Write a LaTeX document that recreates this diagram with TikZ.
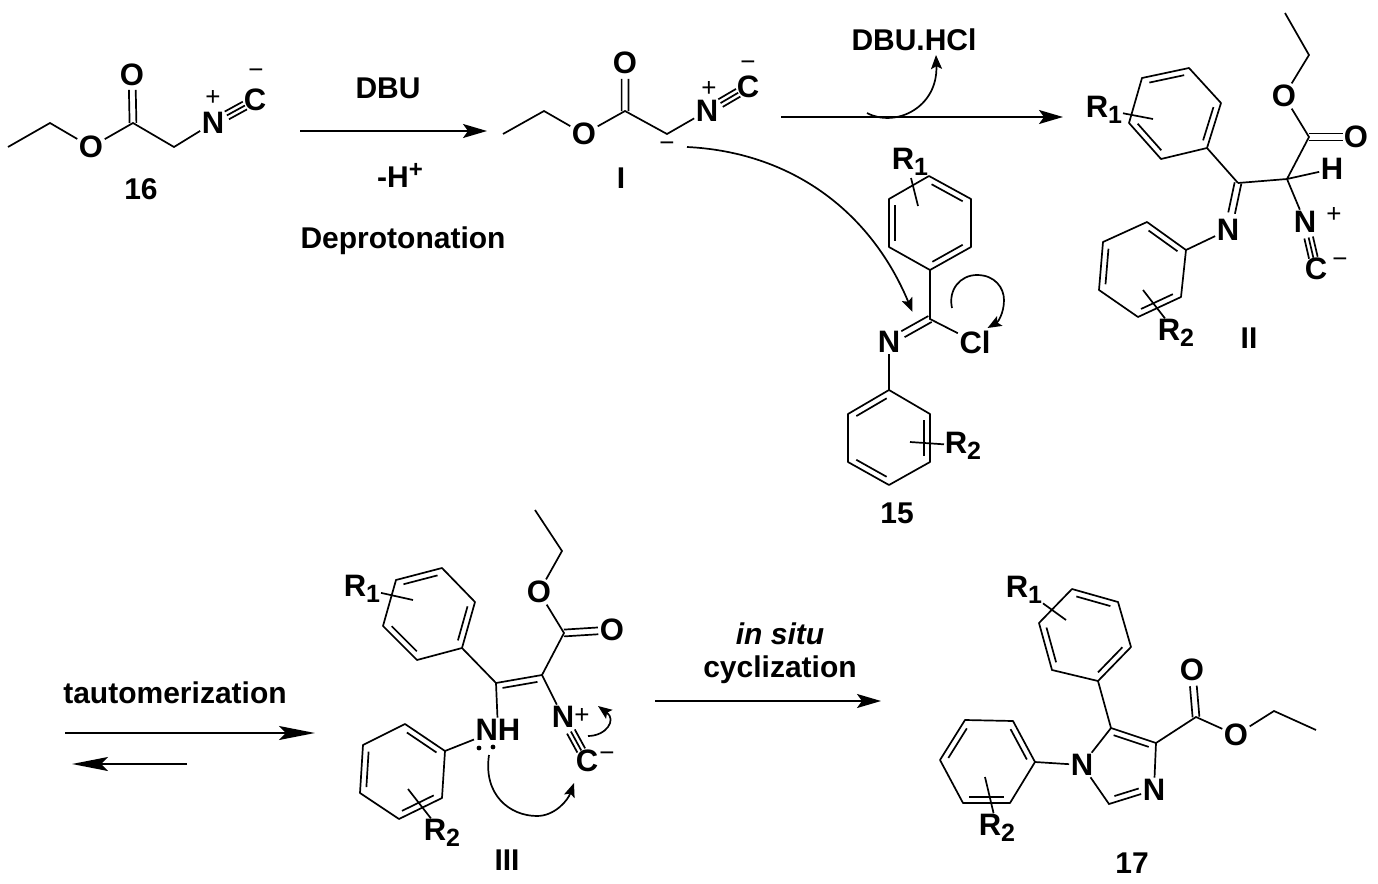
\documentclass[tikz,border=0pt]{standalone}
\usepackage{fontspec}
\setmainfont{Liberation Sans}
\usetikzlibrary{calc,arrows.meta}
\newcommand{\subb}[1]{\raisebox{-2.8pt}{\fontsize{12.5}{13}\selectfont #1}}
\newcommand{\inb}[5]{\draw ($(#1)!#3!(#2)!#5!90:(#2)$) -- ($(#1)!#4!(#2)!#5!90:(#2)$);}
\newcommand{\dblb}[3]{%
  \draw ($(#1)!1.7pt!90:(#2)$) -- ($(#1)!#3!(#2)!1.7pt!90:(#2)$);
  \draw ($(#1)!-1.7pt!90:(#2)$) -- ($(#1)!#3!(#2)!-1.7pt!90:(#2)$);}
\newcommand{\tbond}[2]{%
  \draw ($(#1)!.33!(#2)$) -- ($(#1)!.76!(#2)$);
  \inb{#1}{#2}{.33}{.76}{2.2pt}
  \inb{#1}{#2}{.33}{.76}{-2.2pt}}
\newcommand{\benz}[7]{%
  \coordinate (#1a) at #2; \coordinate (#1b) at #3; \coordinate (#1c) at #4;
  \coordinate (#1d) at #5; \coordinate (#1e) at #6; \coordinate (#1f) at #7;
  \draw[line join=round] (#1a) -- (#1b) -- (#1c) -- (#1d) -- (#1e) -- (#1f) -- cycle;
  \inb{#1a}{#1b}{.13}{.87}{-3pt}
  \inb{#1c}{#1d}{.13}{.87}{-3pt}
  \inb{#1e}{#1f}{.13}{.87}{-3pt}}
\newcommand{\Rlab}[4]{\node[rlab] (#1) at (#2-10,#3+10.5) {R\subb{#4}};}
\tikzset{
  atom/.style={font=\fontsize{15.5}{16}\selectfont\bfseries, inner sep=0.4pt},
  rlab/.style={font=\fontsize{15.5}{16}\selectfont\bfseries, inner sep=0pt, anchor=base west},
  txt/.style={font=\fontsize{15}{16}\selectfont\bfseries, inner sep=0pt},
  chg/.style={font=\fontsize{13}{14}\selectfont, inner sep=0pt},
  rxn/.style={-{Stealth[length=12pt,width=7pt,inset=2.5pt]}},
  rxnl/.style={-{Stealth[length=18pt,width=7pt,inset=3.5pt]}},
  curly/.style={-{Stealth[length=7pt,width=5.5pt,inset=1.4pt]}}
}
\begin{document}
\begin{tikzpicture}[x=0.5pt,y=-0.5pt,line width=0.85pt]
\useasboundingbox (0,0) rectangle (1378,884);

% ---------- 16
\coordinate (a1) at (8,147); \coordinate (a2) at (50,123);
\coordinate (a4) at (133,123); \coordinate (a6) at (174,147);
\node[atom] (a3) at (91,147) {O};
\node[atom] (a5) at (132,75) {O};
\node[atom] (a7) at (213,123) {N};
\node[atom] (a8) at (255,100) {C};
\node[chg] (a9) at (213,98) {+};
\node[chg] (a10) at (256,74) {−};
\draw (a1) -- (a2) -- (a3) -- (a4) -- (a6) -- (a7);
\dblb{a4}{a5}{.69}
\tbond{a7}{a8}
\node[txt] (l16) at (141,189) {16};

% ---------- reaction 1
\coordinate (r1s) at (300,131); \coordinate (r1e) at (487,131);
\draw[rxn] (r1s) -- (r1e);
\node[txt] (t1) at (388,88) {DBU};
\node[txt] (t2) at (400,175) {-H\raisebox{5pt}{\fontsize{12}{12}\selectfont +}};
\node[txt] (t3) at (403,241) {Deprotonation};

% ---------- I
\coordinate (b1) at (503,134); \coordinate (b2) at (544,111);
\coordinate (b4) at (625,111); \coordinate (b6) at (667,134);
\node[atom] (b3) at (584,134) {O};
\node[atom] (b5) at (625,63) {O};
\node[atom] (b7) at (707,111) {N};
\node[atom] (b8) at (748,87) {C};
\node[chg] (b9) at (709,89) {+};
\node[chg] (b10) at (748,66) {−};
\node[chg] (b11) at (667,147) {−};
\draw (b1) -- (b2) -- (b3) -- (b4) -- (b6) -- (b7);
\dblb{b4}{b5}{.67}
\tbond{b7}{b8}
\node[txt] (lI) at (621,178) {I};

% ---------- arrow to II
\coordinate (r2s) at (781,117); \coordinate (r2e) at (1063,117);
\draw[rxn] (r2s) -- (r2e);
\node[txt] (t4) at (914,40) {DBU.HCl};
\coordinate (c1s) at (867,113); \coordinate (c1e) at (936,55);
\draw[curly] (c1s) .. controls (895,128) and (938,108) .. (c1e);
\coordinate (c2s) at (687,147); \coordinate (c2e) at (912.5,312);
\draw[curly] (c2s) .. controls (790,152) and (870,210) .. (c2e);

% ---------- 15
\benz{p}{(929,176)}{(971,199)}{(971,247)}{(930,270)}{(889,247)}{(889,199)}
\Rlab{p1}{901}{159}{1}
\coordinate (p2) at (911,178); \coordinate (p3) at (918,206);
\draw (p2) -- (p3);
\coordinate (p4) at (930,319);
\node[atom] (p5) at (889,342) {N};
\node[atom] (p6) at (975,342) {Cl};
\draw (pd) -- (p4) -- (p6);
\dblb{p4}{p5}{.66}
\benz{q}{(848,414)}{(889,390)}{(930,414)}{(930,462)}{(889,485)}{(848,462)}
\draw (p5) -- (qb);
\coordinate (q1) at (910,442);
\Rlab{q2}{954}{443}{2}
\draw (q1) -- (q2);
\node[txt] (l15) at (897,513) {15};
\coordinate (c3s) at (952,308); \coordinate (c3m) at (977,275);
\coordinate (c3n) at (1004,300); \coordinate (c3e) at (987.5,328);
\draw[curly] (c3s) .. controls (948,290) and (960,275) .. (c3m)
  .. controls (995,275) and (1004,288) .. (c3n)
  .. controls (1004,313) and (998,322) .. (c3e);

% ---------- II
\coordinate (d1) at (1285,13); \coordinate (d2) at (1309,55);
\node[atom] (d3) at (1284,96) {O};
\coordinate (d4) at (1309,137);
\node[atom] (d5) at (1356,137) {O};
\coordinate (d6) at (1287,179);
\node[atom] (d7) at (1332,169) {H};
\coordinate (d8) at (1238,183);
\node[atom] (d9) at (1228,230) {N};
\node[atom] (d10) at (1305,222) {N};
\node[chg] (d11) at (1334,215) {+};
\node[atom] (d12) at (1316,269) {C};
\node[chg] (d13) at (1340,263) {−};
\draw (d1) -- (d2) -- (d3) -- (d4) -- (d6) -- (d7);
\draw (d6) -- (d10);
\draw (d6) -- (d8);
\dblb{d4}{d5}{.72}
\dblb{d8}{d9}{.64}
\tbond{d10}{d12}
\benz{u}{(1142,78)}{(1189,68)}{(1221,103)}{(1207,148)}{(1161,159)}{(1129,123)}
\draw (ud) -- (d8);
\Rlab{u1}{1095}{107}{1}
\coordinate (u2) at (1153,119);
\draw (u1) -- (u2);
\benz{v}{(1147,222)}{(1186,250)}{(1181,297)}{(1138,317)}{(1099,290)}{(1103,242)}
\draw (d9) -- (vb);
\coordinate (v1) at (1143,290);
\Rlab{v2}{1167}{330}{2}
\draw (v1) -- (v2);
\node[txt] (lII) at (1249,338) {II};

% ---------- tautomerization
\node[txt] (t5) at (175,693) {tautomerization};
\coordinate (r3s) at (65,733); \coordinate (r3e) at (315,733);
\draw[rxnl] (r3s) -- (r3e);
\coordinate (r4s) at (187,764); \coordinate (r4e) at (72,764);
\draw[rxnl] (r4s) -- (r4e);

% ---------- III
\coordinate (e1) at (535,510); \coordinate (e2) at (562,551);
\node[atom] (e3) at (539,592) {O};
\coordinate (e4) at (564,633);
\node[atom] (e5) at (612,630) {O};
\coordinate (e6) at (542,675); \coordinate (e7) at (496,683);
\node[atom] (e8) at (498,730) {NH};
\node[atom] (e9) at (563,717) {N};
\node[chg] (e10) at (582,716) {+};
\node[atom] (e11) at (587,761) {C};
\node[chg] (e12) at (607,757) {−};
\draw (e1) -- (e2) -- (e3) -- (e4) -- (e6) -- (e9);
\draw (e6) -- (e7) -- (e8);
\dblb{e4}{e5}{.71}
\inb{e7}{e6}{.12}{.88}{-3pt}
\tbond{e9}{e11}
\benz{w}{(396,580)}{(442,568)}{(475,602)}{(462,648)}{(417,660)}{(383,626)}
\draw (wd) -- (e7);
\Rlab{w1}{353}{586}{1}
\coordinate (w2) at (413,600);
\draw (w1) -- (w2);
\benz{z}{(405,724)}{(445,751)}{(442,798)}{(399,819)}{(360,793)}{(363,745)}
\draw (e8) -- (zb);
\coordinate (z1) at (408,789);
\Rlab{z2}{433}{830}{2}
\draw (z1) -- (z2);
\fill (479,748) circle[radius=1.2pt];
\fill (493,747) circle[radius=1.2pt];
\coordinate (c4s) at (489,755); \coordinate (c4m) at (537,816); \coordinate (c4e) at (574,783);
\draw[curly] (c4s) .. controls (483,795) and (510,816) .. (c4m)
  .. controls (555,816) and (568,800) .. (c4e);
\coordinate (c5s) at (588,736); \coordinate (c5e) at (598,706);
\draw[curly] (c5s) .. controls (606,736) and (617,720) .. (c5e);
\node[txt] (lIII) at (507,860) {III};

% ---------- cyclization
\node[txt] (t6) at (780,634) {\itshape in situ};
\node[txt] (t7) at (780,670) {cyclization};
\coordinate (r5s) at (655,701); \coordinate (r5e) at (881,701);
\draw[rxn] (r5s) -- (r5e);

% ---------- 17
\benz{g}{(1072,589)}{(1118,602)}{(1131,647)}{(1098,681)}{(1052,670)}{(1039,623)}
\Rlab{g1}{1015}{587}{1}
\coordinate (g2) at (1066,620);
\draw (g1) -- (g2);
\coordinate (f1) at (1111,728); \coordinate (f2) at (1156,743);
\node[atom] (f3) at (1154,790) {N};
\coordinate (f4) at (1109,804);
\node[atom] (f5) at (1082,765) {N};
\draw (gd) -- (f1) -- (f2) -- (f3) -- (f4) -- (f5) -- (f1);
\inb{f1}{f2}{.1}{.88}{-3pt}
\inb{f4}{f3}{.16}{.7}{3pt}
\coordinate (f6) at (1196,717);
\node[atom] (f7) at (1192,670) {O};
\node[atom] (f8) at (1236,735) {O};
\coordinate (f9) at (1274,711); \coordinate (f10) at (1316,730);
\draw (f2) -- (f6) -- (f8) -- (f9) -- (f10);
\dblb{f6}{f7}{.66}
\benz{k}{(1013,721)}{(1035,762)}{(1010,803)}{(963,803)}{(940,760)}{(965,720)}
\draw (f5) -- (kb);
\coordinate (k1) at (985,777);
\Rlab{k2}{988}{825}{2}
\draw (k1) -- (k2);
\node[txt] (l17) at (1132,863) {17};
\end{tikzpicture}
\end{document}
